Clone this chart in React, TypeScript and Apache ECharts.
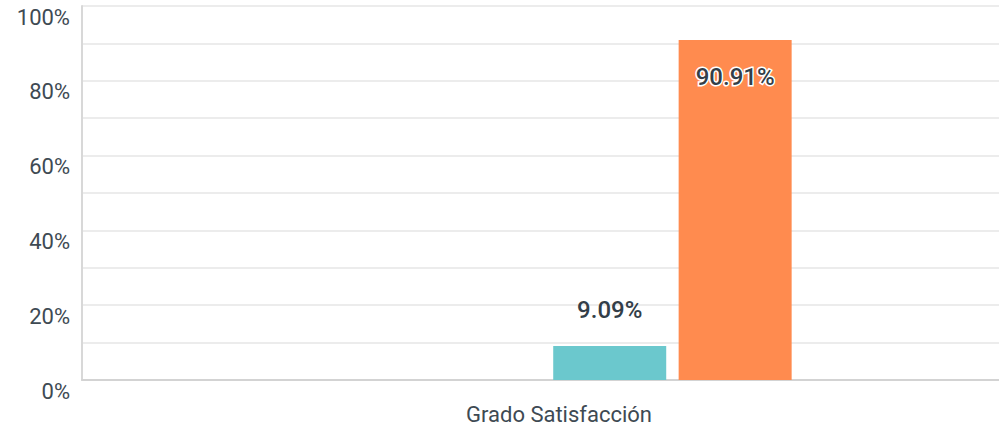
import React, { useEffect, useRef } from "react";
import * as echarts from "echarts";

const categories = ["Grado Satisfacción"];
const seriesNames = ["A", "B", "C", "D"];
const seriesValues = [[0], [0], [9.09], [90.91]];
const seriesColors = ["#6bc8cd", "#6bc8cd", "#6bc8cd", "#ff8b4f"];
const yTicks = [0, 10, 20, 30, 40, 50, 60, 70, 80, 90, 100];

export default function App() {
  const ref = useRef<HTMLDivElement>(null);
  useEffect(() => {
    document.body.style.margin = "0";
    document.body.style.overflow = "hidden";
    const chart = echarts.init(ref.current!, null, { renderer: "svg" });
    const font = "Roboto, 'Noto Sans', sans-serif";
    chart.setOption({
      animation: false,
      textStyle: { fontFamily: font },
      grid: { left: 82, right: 0, top: 6, bottom: 50, containLabel: false },
      xAxis: {
        type: "category",
        data: categories,
        axisLine: { lineStyle: { color: "#d3d3d3", width: 2 } },
        axisTick: { show: false },
        axisLabel: {
          color: "#3e4a53",
          fontSize: 22,
          fontFamily: font,
          margin: 23,
          padding: [0, 0, 0, 24],
        },
      },
      yAxis: {
        type: "value",
        min: yTicks[0],
        max: yTicks[yTicks.length - 1],
        interval: 10,
        axisLine: { show: true, lineStyle: { color: "#d8d8d8", width: 2 } },
        axisTick: { show: false },
        splitLine: { lineStyle: { color: "#ececec", width: 2 } },
        axisLabel: {
          color: "#3e4a53",
          fontSize: 22,
          fontFamily: font,
          margin: 12,
          verticalAlign: "top",
          formatter: (v: number) => (v % 20 === 0 ? v + "%" : ""),
        },
      },
      series: seriesNames.map((name, i) => ({
        name,
        type: "bar",
        data: seriesValues[i],
        barWidth: 113,
        barGap: "11%",
        itemStyle: { color: seriesColors[i] },
        label: {
          show: seriesValues[i][0] > 0,
          position: i === 3 ? "insideTop" : "top",
          distance: i === 3 ? 25 : 24,
          formatter: (p: any) => p.value.toFixed(2) + "%",
          color: "#333e48",
          fontSize: 24,
          fontWeight: 500,
          fontFamily: font,
          textBorderColor: i === 3 ? "#ffffff" : "transparent",
          textBorderWidth: i === 3 ? 3 : 0,
        },
      })),
    });
    return () => chart.dispose();
  }, []);
  return <div ref={ref} style={{ width: 1012, height: 430 }} />;
}
